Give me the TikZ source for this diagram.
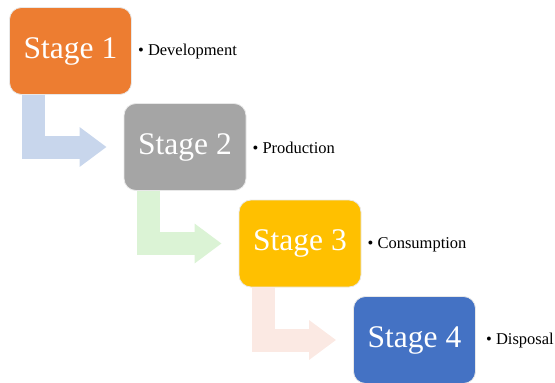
\documentclass[tikz,border=0pt]{standalone}
\usepackage{fontspec}
\setmainfont{Liberation Serif}
\usepackage{xcolor}
\usetikzlibrary{arrows.meta}
\usetikzlibrary{calc}
\definecolor{stageone}{HTML}{ED7D31}
\definecolor{stagetwo}{HTML}{A5A5A5}
\definecolor{stagethree}{HTML}{FFC000}
\definecolor{stagefour}{HTML}{4472C4}
\definecolor{arrowone}{HTML}{C8D6EC}
\definecolor{arrowtwo}{HTML}{DBF3D5}
\definecolor{arrowthree}{HTML}{FBE9E3}
\tikzset{stagebox/.style={draw=white!82!gray, line width=.8pt, rounded corners=12pt,
		minimum width=122pt, minimum height=87pt, text=white,
		font=\fontsize{31.5}{38}\selectfont},
	itemtext/.style={anchor=west, inner sep=2pt, font=\fontsize{16.5}{20}\selectfont},
	bentarrow/.style={line width=23pt, -{Triangle[length=27pt,width=38pt]}}}

\begin{document}
\begin{tikzpicture}[x=1pt,y=-1pt]
	\useasboundingbox (0,0) rectangle (555,383);
	\node[stagebox,fill=stageone] (s1) at (70.5,51) {Stage 1};
	\node[stagebox,fill=stagetwo] (s2) at (185,147) {Stage 2};
	\node[stagebox,fill=stagethree] (s3) at (300,243.5) {Stage 3};
	\node[stagebox,fill=stagefour] (s4) at (414.5,340) {Stage 4};
	\node[itemtext] (l1) at ($(s1.east)+(4,1)$) {\textbullet\ Development};
	\node[itemtext] (l2) at ($(s2.east)+(4,1)$) {\textbullet\ Production};
	\node[itemtext] (l3) at ($(s3.east)+(4,1)$) {\textbullet\ Consumption};
	\node[itemtext] (l4) at ($(s4.east)+(8,1)$) {\textbullet\ Disposal};
	% bent arrows between the stages
	\draw[bentarrow,draw=arrowone] ($(s1.south west)+(24.7,0)$) |- ($(s2.west)+(-17,0)$);
	\draw[bentarrow,draw=arrowtwo] ($(s2.south west)+(24.7,0)$) |- ($(s3.west)+(-17,0)$);
	\draw[bentarrow,draw=arrowthree] ($(s3.south west)+(24.7,0)$) |- ($(s4.west)+(-17,0)$);
\end{tikzpicture}
\end{document}
